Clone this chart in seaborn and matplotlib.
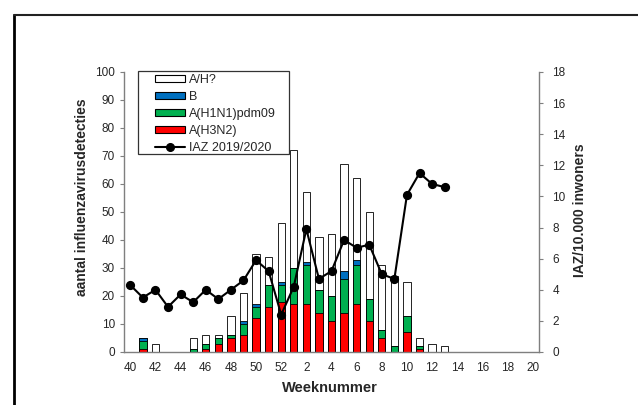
import numpy as np
import pandas as pd
import matplotlib
matplotlib.use("Agg")
import matplotlib.pyplot as plt
import seaborn as sns
from matplotlib.patches import Patch, Rectangle
from matplotlib.lines import Line2D

# ---- data -------------------------------------------------------------
weeks = [str(w) for w in list(range(40, 53)) + list(range(1, 21))]
h3n2 = [0, 1, 0, 0, 0, 0, 1, 3, 5, 6, 12, 16, 18, 17, 17, 14, 11, 14, 17, 11, 5, 0, 7, 1, 0, 0,
        0, 0, 0, 0, 0, 0, 0]
h1n1 = [0, 3, 0, 0, 0, 1, 2, 2, 1, 4, 4, 8, 6, 13, 14, 8, 9, 12, 14, 8, 3, 2, 6, 1, 0, 0,
        0, 0, 0, 0, 0, 0, 0]
infl_b = [0, 1, 0, 0, 0, 0, 0, 0, 0, 1, 1, 0, 1, 0, 1, 0, 0, 3, 2, 0, 0, 0, 0, 0, 0, 0,
          0, 0, 0, 0, 0, 0, 0]
a_h = [0, 0, 3, 0, 0, 4, 3, 1, 7, 10, 18, 10, 21, 42, 25, 19, 22, 38, 29, 31, 23, 25, 12, 3, 3, 2,
       0, 0, 0, 0, 0, 0, 0]
iaz = [4.3, 3.5, 4.0, 2.9, 3.7, 3.2, 4.0, 3.4, 4.0, 4.6, 5.9, 5.2, 2.4, 4.2, 7.9, 4.7, 5.2,
       7.2, 6.7, 6.9, 5.0, 4.7, 10.1, 11.5, 10.8, 10.6]
xtick_labels = weeks[::2]

# ---- style ------------------------------------------------------------
sns.set_style("white")
plt.rcParams['font.family'] = ['Liberation Sans', 'DejaVu Sans']

W, H = 638, 405
fig = plt.figure(figsize=(W / 100, H / 100), dpi=100)
fig.patch.set_facecolor('white')
x0, x1, y0, y1 = 124, 539, 72, 352
ax = fig.add_axes([x0 / W, 1 - y1 / H, (x1 - x0) / W, (y1 - y0) / H])

df = pd.DataFrame({'week': weeks, 'h3': h3n2, 'h1': h1n1, 'b': infl_b, 'ah': a_h})
df['c1'] = df['h3']
df['c2'] = df['c1'] + df['h1']
df['c3'] = df['c2'] + df['b']
df['c4'] = df['c3'] + df['ah']

layers = [('c4', 'white'), ('c3', '#0070C0'), ('c2', '#00B050'), ('c1', '#FF0000')]
for col, color in layers:
    vals = df[col].where(df[col] > 0)
    sns.barplot(x=df['week'], y=vals, order=weeks, color=color, saturation=1,
                edgecolor='black', linewidth=0.6, width=0.58, errorbar=None, ax=ax)

ax2 = ax.twinx()
iaz_df = pd.DataFrame({'week': weeks[:len(iaz)], 'iaz': iaz})
sns.pointplot(data=iaz_df, x='week', y='iaz', order=weeks, color='black',
              markers='o', markersize=5.5, linewidth=1.5, errorbar=None, ax=ax2)

spine_c = '#7f7f7f'
for a in (ax, ax2):
    a.set_xlim(-0.5, len(weeks) - 0.5)
    a.set_facecolor('none')
    a.spines['top'].set_visible(False)
    for s in ('left', 'right', 'bottom'):
        a.spines[s].set_color(spine_c)
        a.spines[s].set_linewidth(1)
ax.spines['right'].set_visible(False)
ax2.spines['left'].set_visible(False)
ax2.spines['bottom'].set_visible(False)

ax.set_ylim(0, 100)
ax.set_yticks(np.arange(0, 101, 10))
ax2.set_ylim(0, 18)
ax2.set_yticks(np.arange(0, 19, 2))

ax.set_xticks(np.arange(0, len(weeks), 2))
ax.set_xticklabels(xtick_labels)
ax.set_xticks(np.arange(-0.5, len(weeks), 1), minor=True)
ax.tick_params(axis='x', which='major', length=0, pad=7, labelsize=8.5)
ax.tick_params(axis='x', which='minor', length=3.5, direction='out', color=spine_c, width=1)
ax.tick_params(axis='y', length=3, direction='out', color=spine_c, pad=3.5, labelsize=8.5, left=True)
ax2.tick_params(axis='y', length=3, direction='out', color=spine_c, pad=6.5, labelsize=8.5, right=True)
ax2.tick_params(axis='x', which='both', bottom=False, labelbottom=False)

ax.set_xlabel('Weeknummer', fontsize=10.5, fontweight='bold')
ax.xaxis.set_label_coords((330 - x0) / (x1 - x0), -(388 - y1) / (y1 - y0))
ax.xaxis.label.set_verticalalignment('center')
ax.set_ylabel('aantal influenzavirusdetecties', fontsize=10, fontweight='bold')
ax.yaxis.set_label_coords((82 - x0) / (x1 - x0), (y1 - 197) / (y1 - y0))
ax.yaxis.label.set_verticalalignment('center')
ax2.set_ylabel('IAZ/10.000 inwoners', fontsize=10, fontweight='bold', rotation=90)
ax2.yaxis.set_label_coords((580 - x0) / (x1 - x0), (y1 - 210) / (y1 - y0))
ax2.yaxis.label.set_verticalalignment('center')

# ---- legend -----------------------------------------------------------
handles = [
    Patch(facecolor='white', edgecolor='black', linewidth=0.8, label='A/H?'),
    Patch(facecolor='#0070C0', edgecolor='black', linewidth=0.8, label='B'),
    Patch(facecolor='#00B050', edgecolor='black', linewidth=0.8, label='A(H1N1)pdm09'),
    Patch(facecolor='#FF0000', edgecolor='black', linewidth=0.8, label='A(H3N2)'),
    Line2D([], [], color='black', marker='o', markersize=5.5, linewidth=1.5, label='IAZ 2019/2020'),
]
fig.legend(handles=handles, loc='upper left', bbox_to_anchor=(155 / W, 1 - 74 / H),
           frameon=False, fontsize=9, handlelength=2.4, handleheight=0.4,
           labelspacing=0.4, handletextpad=0.3, borderpad=0, borderaxespad=0)
fig.add_artist(Rectangle((138 / W, 1 - 154 / H), (289 - 138) / W, (154 - 71) / H,
                         transform=fig.transFigure, facecolor='none', edgecolor='#333333',
                         linewidth=0.9))

# ---- outer frame (partially visible) ---------------------------------
fig.add_artist(Line2D([14 / W, 14 / W], [0, 1 - 15 / H], transform=fig.transFigure,
                      color='black', linewidth=2))
fig.add_artist(Line2D([14 / W, 1], [1 - 15 / H, 1 - 15 / H], transform=fig.transFigure,
                      color='#222222', linewidth=1.5))

fig.savefig('out.png', dpi=100)
